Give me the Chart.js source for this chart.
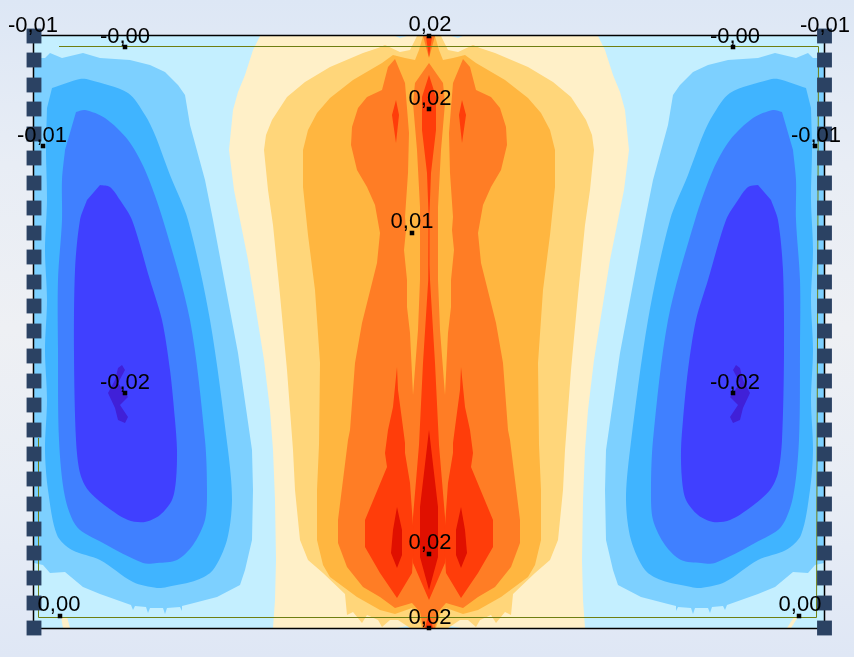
<!DOCTYPE html>
<html>
<head>
<meta charset="utf-8">
<title>Contour plot</title>
<script src="https://cdn.jsdelivr.net/npm/chart.js@4/dist/chart.umd.min.js"></script>
<style>
  html, body { margin: 0; padding: 0; }
  body {
    width: 854px; height: 657px; overflow: hidden;
    background: linear-gradient(180deg, #dde7f5 0%, #e8edf5 25%, #eef0f4 50%, #e8edf5 75%, #dfe7f5 100%);
  }
  canvas { display: block; }
</style>
</head>
<body>
<canvas id="plot" width="854" height="657"></canvas>
<script>
// contour bands, in plot units
const plateBase = [[34,36],[824,36],[824,628],[34,628]];
const paleYellowBand = [[260,36],[253,50],[245,75],[238,92],[233,110],[229,150],[234,190],[240,220],[248,260],[256,310],[264,360],[270,410],[273,450],[275,500],[276,560],[275,600],[273,628],[585,628],[583,600],[582,560],[583,500],[585,450],[588,410],[594,360],[602,310],[610,260],[618,220],[624,190],[629,150],[625,110],[620,92],[613,75],[605,50],[598,36]];
const lightOrangeBand = [[417,36],[410,50],[400,52],[385,45],[378,48],[363,53],[330,67],[305,82],[287,97],[272,120],[266,135],[264,150],[268,190],[273,225],[280,295],[287,370],[293,450],[295,490],[300,540],[308,560],[323,573],[345,594],[347,615],[353,612],[362,623],[367,615],[378,620],[382,627],[390,620],[398,620],[410,628],[448,628],[460,620],[468,620],[476,627],[480,620],[491,615],[496,623],[505,612],[511,615],[513,594],[535,573],[550,560],[558,540],[563,490],[565,450],[571,370],[578,295],[585,225],[590,190],[594,150],[592,135],[586,120],[571,97],[553,82],[528,67],[495,53],[480,48],[473,45],[458,52],[448,50],[441,36]];
const amberBand = [[423,36],[419,50],[415,60],[405,58],[393,55],[382,63],[353,80],[330,98],[317,113],[308,130],[303,150],[303,187],[308,235],[315,290],[320,363],[319,445],[317,490],[317,540],[323,565],[330,577],[357,597],[380,610],[395,614],[412,608],[418,615],[422,628],[436,628],[440,615],[446,608],[463,614],[478,610],[501,597],[528,577],[535,565],[541,540],[541,490],[539,445],[538,363],[543,290],[550,235],[555,187],[555,150],[550,130],[541,113],[528,98],[505,80],[476,63],[465,55],[453,58],[443,60],[439,50],[435,36]];
const orangeBand = [[429,63],[415,83],[413,103],[417,150],[420,207],[420,240],[420,280],[418,330],[413,395],[410,333],[407,307],[407,280],[404,250],[406,230],[405,217],[408,173],[409,133],[405,83],[395,59],[388,67],[382,90],[367,97],[358,108],[352,127],[351,145],[357,170],[367,187],[375,205],[380,233],[377,263],[369,295],[362,323],[355,363],[350,430],[348,440],[343,480],[338,520],[338,543],[347,567],[363,587],[380,597],[395,608],[412,603],[420,612],[423,628],[435,628],[438,612],[446,603],[463,608],[478,597],[495,587],[511,567],[520,543],[520,520],[515,480],[510,440],[508,430],[503,363],[496,323],[489,295],[481,263],[478,233],[483,205],[491,187],[501,170],[507,145],[506,127],[500,108],[491,97],[476,90],[470,67],[463,59],[453,83],[449,133],[450,173],[453,217],[452,230],[454,250],[451,280],[451,307],[448,333],[445,395],[440,330],[438,280],[438,240],[438,207],[441,150],[445,103],[443,83]];
const orangeTopTip = [[423,36],[429,58],[435,36]];
const redSpire = [[429,75],[422,97],[422,130],[427,173],[428.5,213],[428.5,265],[428,280],[423,363],[419,445],[413,517],[412,540],[413,563],[429,600],[445,563],[446,540],[445,517],[439,445],[435,363],[430,280],[429.5,265],[429.5,213],[431,173],[436,130],[436,97]];
const redLobeLeft = [[397,367],[398,390],[402,420],[405,443],[405,453],[410,483],[414,540],[412,573],[397,598],[380,573],[365,547],[365,520],[387,467],[385,453],[388,430],[393,407]];
const redLobeRight = [[461,367],[465,407],[470,430],[473,453],[471,467],[493,520],[493,547],[478,573],[461,598],[446,573],[444,540],[448,483],[453,453],[453,443],[456,420],[460,390]];
const redSpindleLeft = [[396,100],[392,115],[396,143],[399,115]];
const redSpindleRight = [[462,100],[459,115],[462,143],[466,115]];
const redTopTip = [[426,37],[429,57],[432,37]];
const redBottomTip = [[425,628],[429,612],[433,628]];
const darkRedSpire = [[429,430],[420,507],[420,557],[429,590],[438,557],[438,507]];
const darkRedLeft = [[397,507],[402,530],[402,555],[397,568],[391,553],[393,530]];
const darkRedRight = [[461,507],[465,530],[467,553],[461,568],[456,555],[456,530]];

const skyBandLeft = [[34,58],[45,58],[50,53],[62,58],[83,53],[100,58],[130,60],[150,65],[165,72],[178,85],[185,95],[190,125],[205,180],[213,220],[228,300],[238,353],[252,450],[253,490],[252,540],[245,570],[240,585],[217,597],[190,604],[182,606],[182,611],[180,607],[167,608],[165,614],[163,608],[150,608],[148,613],[146,607],[135,606],[133,610],[131,605],[100,594],[83,587],[65,572],[50,573],[43,565],[34,563]];
const skyBandRight = [[824,58],[813,58],[808,53],[796,58],[775,53],[758,58],[728,60],[708,65],[693,72],[680,85],[673,95],[668,125],[653,180],[645,220],[630,300],[620,353],[606,450],[605,490],[606,540],[613,570],[618,585],[641,597],[668,604],[676,606],[676,611],[678,607],[691,608],[693,614],[695,608],[708,608],[710,613],[712,607],[723,606],[725,610],[727,605],[758,594],[775,587],[793,572],[808,573],[815,565],[824,563]];
const azureBandLeft = [[52,88],[80,79],[90,80],[128,93],[145,115],[155,135],[170,175],[188,220],[210,320],[228,450],[232,500],[227,540],[213,570],[197,580],[167,587],[157,588],[133,582],[100,560],[72,550],[57,535],[48,490],[45,450],[47,400],[45,350],[47,300],[45,250],[47,200],[46,150],[47,108]];
const azureBandRight = [[806,88],[778,79],[768,80],[730,93],[713,115],[703,135],[688,175],[670,220],[648,320],[630,450],[626,500],[631,540],[645,570],[661,580],[691,587],[701,588],[725,582],[758,560],[786,550],[801,535],[810,490],[813,450],[811,400],[813,350],[811,300],[813,250],[811,200],[812,150],[811,108]];
const royalBandLeft = [[76,112],[85,110],[105,118],[128,140],[145,170],[163,220],[190,320],[205,440],[207,490],[205,520],[193,545],[177,560],[157,563],[143,563],[103,543],[77,527],[65,497],[59,440],[58,350],[58,280],[62,220],[62,180],[65,150]];
const royalBandRight = [[782,112],[773,110],[753,118],[730,140],[713,170],[695,220],[668,320],[653,440],[651,490],[653,520],[665,545],[681,560],[701,563],[715,563],[755,543],[781,527],[793,497],[799,440],[800,350],[800,280],[796,220],[796,180],[793,150]];
const indigoBandLeft = [[100,185],[110,187],[120,200],[132,220],[150,280],[162,320],[170,370],[175,420],[177,450],[176,480],[172,500],[160,515],[145,522],[128,520],[107,507],[88,490],[80,473],[76,440],[74,353],[75,270],[80,220],[87,200]];
const indigoBandRight = [[758,185],[748,187],[738,200],[726,220],[708,280],[696,320],[688,370],[683,420],[681,450],[682,480],[686,500],[698,515],[713,522],[730,520],[751,507],[770,490],[778,473],[782,440],[784,353],[783,270],[778,220],[771,200]];
const violetCoreLeft = [[122,365],[125,370],[118,383],[128,397],[120,405],[128,417],[125,423],[118,420],[115,408],[108,393],[115,380],[118,368]];
const violetCoreRight = [[736,365],[740,368],[743,380],[750,393],[743,408],[740,420],[733,423],[730,417],[738,405],[730,397],[740,383],[733,370]];

const yellowChipLeft = [[61,617],[67,617],[70,628],[63,628]];
const yellowChipRight = [[794,617],[798,617],[791,628],[787,628]];
const blueChips = [
  [[395,36],[407,36],[400,38]], [[451,36],[463,36],[458,38]],
  [[397,628],[417,628],[407,626]], [[441,628],[461,628],[451,626]]
];

const frameLine = [[33.5,35.5],[824.5,35.5],[824.5,628.5],[33.5,628.5],[33.5,35.5]];
const edgeLine = [[59,46.5],[818.5,46.5],[816.5,617.5],[38.5,617.5],[38.5,438]];

// supports along both long edges
const supportYs = [36,60,85,109,134,158,183,208,233,257,282,306,331,356,381,405,430,454,479,504,529,553,578,603,628];
const supportXLeft = 34;
const supportXRight = 824.5;

// value labels: text centre and baseline, plus the small anchor ticks
const labelTexts = ['-0,01','-0,00','0,02','-0,00','-0,01','0,02','-0,01','-0,01','0,01','-0,02','-0,02','0,02','0,00','0,02','0,00'];
const labelTextX = [33,125,430,735,825,430,42,816,412,125,735,430,59,430,800];
const labelBaseY = [32,43,31,43,32,105,142,142,228,389,389,549,611,624,611];
const anchorX = [125,429,733,429,43,815,412,125,733,429,60,429,799];
const anchorY = [47,36,47,109,146,146,233,393,393,554,616,628,616];

const bandColors = {
  ice: '#c4efff', paleYellow: '#fff0c8', lightOrange: '#ffd67a', amber: '#ffb640',
  orange: '#ff7d25', red: '#ff3d0a', darkRed: '#e01000',
  sky: '#7dd0ff', azure: '#40b4ff', royal: '#4080ff', indigo: '#4040ff', violet: '#4020d8'
};

function toPoints(pairs) {
  return pairs.map(p => ({ x: p[0], y: p[1] }));
}

function band(pairs, color, order, tension) {
  return {
    data: toPoints(pairs),
    showLine: true,
    fill: 'shape',
    backgroundColor: color,
    borderColor: color,
    borderWidth: 0,
    pointRadius: 0,
    tension: tension || 0,
    clip: false,
    order: order
  };
}

// painted in this order, outer band first
const paintOrder = [
  [plateBase, bandColors.ice],
  [paleYellowBand, bandColors.paleYellow],
  [blueChips[0], bandColors.ice], [blueChips[1], bandColors.ice],
  [blueChips[2], bandColors.ice], [blueChips[3], bandColors.ice],
  [lightOrangeBand, bandColors.lightOrange],
  [amberBand, bandColors.amber],
  [orangeBand, bandColors.orange],
  [orangeTopTip, bandColors.orange],
  [redSpire, bandColors.red],
  [redLobeLeft, bandColors.red], [redLobeRight, bandColors.red],
  [redSpindleLeft, bandColors.red], [redSpindleRight, bandColors.red],
  [redTopTip, bandColors.red], [redBottomTip, bandColors.red],
  [darkRedSpire, bandColors.darkRed],
  [darkRedLeft, bandColors.darkRed], [darkRedRight, bandColors.darkRed],
  [skyBandLeft, bandColors.sky], [skyBandRight, bandColors.sky],
  [azureBandLeft, bandColors.azure, 0.3], [azureBandRight, bandColors.azure, 0.3],
  [royalBandLeft, bandColors.royal, 0.3], [royalBandRight, bandColors.royal, 0.3],
  [indigoBandLeft, bandColors.indigo, 0.3], [indigoBandRight, bandColors.indigo, 0.3],
  [violetCoreLeft, bandColors.violet], [violetCoreRight, bandColors.violet],
  [yellowChipLeft, bandColors.paleYellow], [yellowChipRight, bandColors.paleYellow]
];

const datasets = paintOrder.map((b, i) => band(b[0], b[1], 100 - i, b[2]));

// lines and markers go on top of the bands
datasets.push({
  data: toPoints(edgeLine), showLine: true, fill: false, borderColor: '#6f7f12',
  borderWidth: 1, pointRadius: 0, tension: 0, clip: false, order: 4
});
datasets.push({
  data: toPoints(frameLine), showLine: true, fill: false, borderColor: '#000000',
  borderWidth: 1.5, pointRadius: 0, tension: 0, clip: false, order: 3
});
datasets.push({
  data: supportYs.map(y => ({ x: supportXLeft, y: y })).concat(supportYs.map(y => ({ x: supportXRight, y: y }))),
  showLine: false, pointStyle: 'rect', pointRadius: 10.5, pointBorderWidth: 0,
  pointBackgroundColor: '#2b4263', clip: false, order: 2
});
datasets.push({
  data: anchorX.map((x, i) => ({ x: x, y: anchorY[i] })),
  showLine: false, pointStyle: 'rect', pointRadius: 3.2, pointBorderWidth: 0,
  pointBackgroundColor: '#000000', clip: false, order: 1
});

const valueLabels = {
  id: 'valueLabels',
  afterDatasetsDraw(chart) {
    const ctx = chart.ctx;
    const xs = chart.scales.x, ys = chart.scales.y;
    ctx.save();
    ctx.font = '22px "Liberation Sans"';
    ctx.fillStyle = '#000000';
    ctx.textAlign = 'center';
    ctx.textBaseline = 'alphabetic';
    labelTexts.forEach((t, i) => {
      ctx.fillText(t, xs.getPixelForValue(labelTextX[i]), ys.getPixelForValue(labelBaseY[i]));
    });
    ctx.restore();
  }
};

new Chart(document.getElementById('plot'), {
  type: 'scatter',
  data: { datasets: datasets },
  options: {
    responsive: false,
    animation: false,
    events: [],
    layout: { padding: 0, autoPadding: false },
    plugins: {
      legend: { display: false },
      tooltip: { enabled: false },
      title: { display: false }
    },
    scales: {
      x: { type: 'linear', display: false, min: 0, max: 854 },
      y: { type: 'linear', display: false, min: 0, max: 657, reverse: true }
    }
  },
  plugins: [valueLabels]
});
</script>
</body>
</html>
